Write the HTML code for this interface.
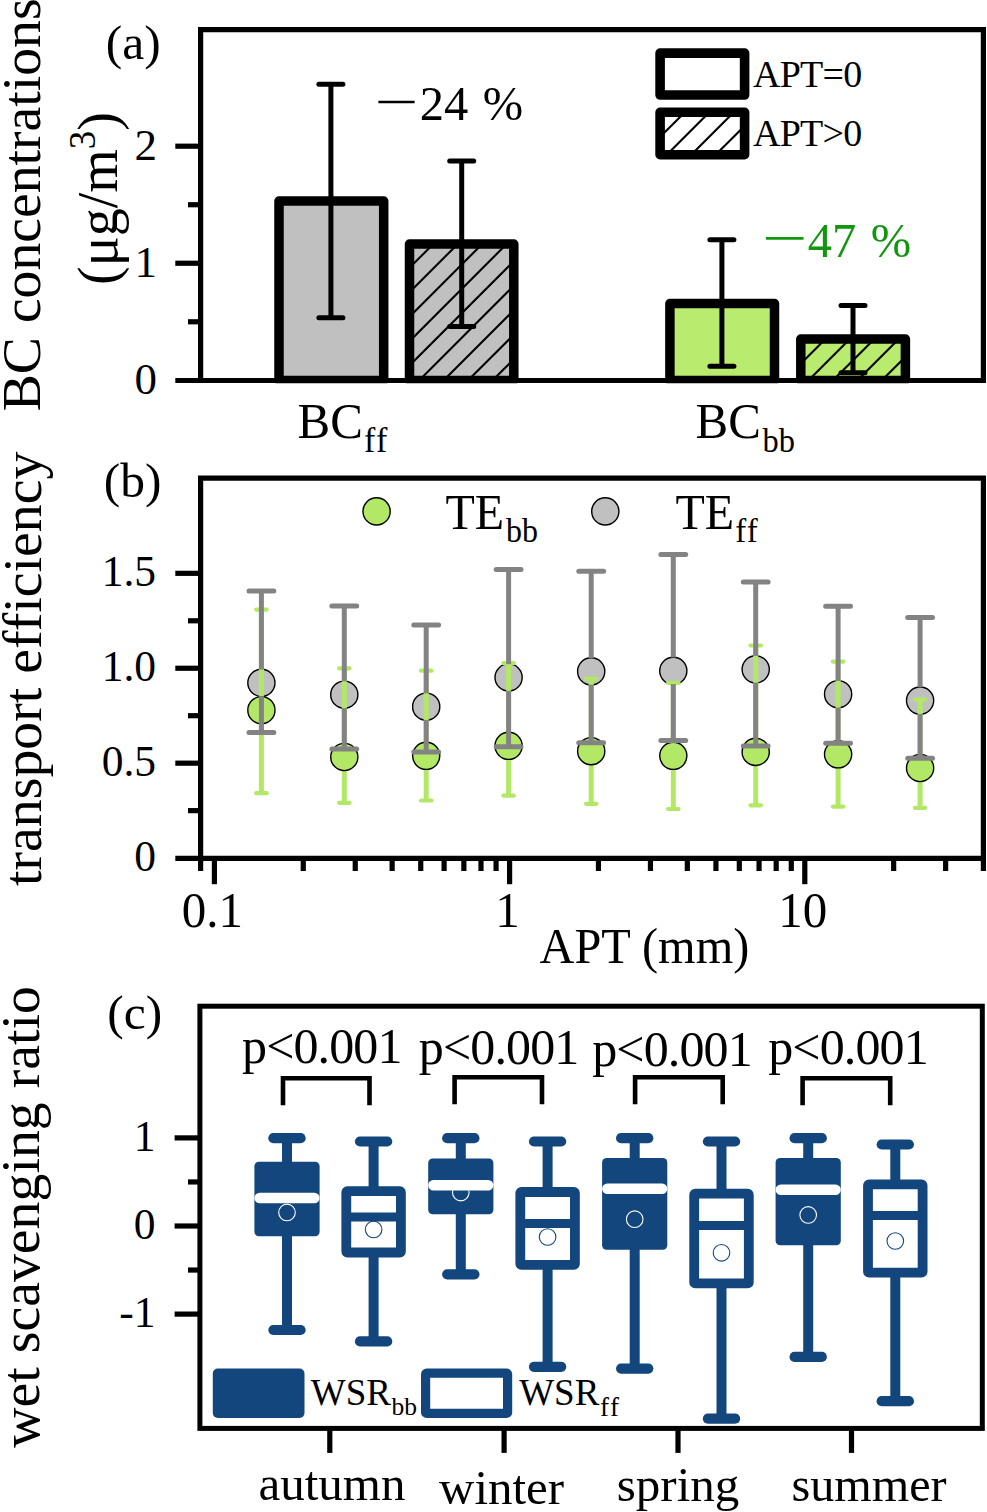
<!DOCTYPE html>
<html><head><meta charset="utf-8"><title>figure</title>
<style>
html,body{margin:0;padding:0;background:#fff;}
body{width:987px;height:1512px;overflow:hidden;font-family:"Liberation Serif", serif;}
svg{display:block;}
text{font-family:"Liberation Serif", serif;}
</style></head><body>
<svg width="987" height="1512" viewBox="0 0 987 1512">
<rect x="0" y="0" width="987" height="1512" fill="#fff"/>

<g id="panelA">
<clipPath id="clipA"><rect x="0" y="0" width="987" height="383.20"/></clipPath>
<rect x="279.00" y="201.00" width="104.70" height="179.30" fill="#c0c0c0"/>
<path d="M279.00,380.50 V201.00 H383.70 V380.50 Z" fill="none" stroke="#000" stroke-width="9.5" stroke-linejoin="round" clip-path="url(#clipA)"/>
<rect x="409.50" y="244.00" width="104.30" height="136.30" fill="#c0c0c0"/>
<clipPath id="ca1"><rect x="409.50" y="244.00" width="104.30" height="136.30"/></clipPath>
<g clip-path="url(#ca1)" stroke="#000" stroke-width="2.1">
<line x1="404.50" y1="223.90" x2="518.80" y2="109.60"/>
<line x1="404.50" y1="248.35" x2="518.80" y2="134.05"/>
<line x1="404.50" y1="272.80" x2="518.80" y2="158.50"/>
<line x1="404.50" y1="297.25" x2="518.80" y2="182.95"/>
<line x1="404.50" y1="321.70" x2="518.80" y2="207.40"/>
<line x1="404.50" y1="346.15" x2="518.80" y2="231.85"/>
<line x1="404.50" y1="370.60" x2="518.80" y2="256.30"/>
<line x1="404.50" y1="395.05" x2="518.80" y2="280.75"/>
<line x1="404.50" y1="419.50" x2="518.80" y2="305.20"/>
<line x1="404.50" y1="443.95" x2="518.80" y2="329.65"/>
<line x1="404.50" y1="468.40" x2="518.80" y2="354.10"/>
<line x1="404.50" y1="492.85" x2="518.80" y2="378.55"/>
</g>
<path d="M409.50,380.50 V244.00 H513.80 V380.50 Z" fill="none" stroke="#000" stroke-width="9.5" stroke-linejoin="round" clip-path="url(#clipA)"/>
<rect x="669.90" y="303.50" width="104.60" height="76.80" fill="#b9ec6e"/>
<path d="M669.90,380.50 V303.50 H774.50 V380.50 Z" fill="none" stroke="#000" stroke-width="9.5" stroke-linejoin="round" clip-path="url(#clipA)"/>
<rect x="800.80" y="339.00" width="104.60" height="41.30" fill="#b9ec6e"/>
<clipPath id="ca2"><rect x="800.80" y="339.00" width="104.60" height="41.30"/></clipPath>
<g clip-path="url(#ca2)" stroke="#000" stroke-width="2.1">
<line x1="795.80" y1="295.25" x2="910.40" y2="180.65"/>
<line x1="795.80" y1="319.70" x2="910.40" y2="205.10"/>
<line x1="795.80" y1="344.15" x2="910.40" y2="229.55"/>
<line x1="795.80" y1="368.60" x2="910.40" y2="254.00"/>
<line x1="795.80" y1="393.05" x2="910.40" y2="278.45"/>
<line x1="795.80" y1="417.50" x2="910.40" y2="302.90"/>
<line x1="795.80" y1="441.95" x2="910.40" y2="327.35"/>
<line x1="795.80" y1="466.40" x2="910.40" y2="351.80"/>
<line x1="795.80" y1="490.85" x2="910.40" y2="376.25"/>
</g>
<path d="M800.80,380.50 V339.00 H905.40 V380.50 Z" fill="none" stroke="#000" stroke-width="9.5" stroke-linejoin="round" clip-path="url(#clipA)"/>
<line x1="330.90" y1="84.30" x2="330.90" y2="317.80" stroke="#000" stroke-width="5.0" stroke-linecap="butt" />
<line x1="318.90" y1="84.30" x2="342.90" y2="84.30" stroke="#000" stroke-width="5.0" stroke-linecap="round" />
<line x1="318.90" y1="317.80" x2="342.90" y2="317.80" stroke="#000" stroke-width="5.0" stroke-linecap="round" />
<line x1="461.70" y1="161.10" x2="461.70" y2="326.60" stroke="#000" stroke-width="5.0" stroke-linecap="butt" />
<line x1="449.70" y1="161.10" x2="473.70" y2="161.10" stroke="#000" stroke-width="5.0" stroke-linecap="round" />
<line x1="449.70" y1="326.60" x2="473.70" y2="326.60" stroke="#000" stroke-width="5.0" stroke-linecap="round" />
<line x1="721.90" y1="239.80" x2="721.90" y2="366.30" stroke="#000" stroke-width="5.0" stroke-linecap="butt" />
<line x1="709.90" y1="239.80" x2="733.90" y2="239.80" stroke="#000" stroke-width="5.0" stroke-linecap="round" />
<line x1="709.90" y1="366.30" x2="733.90" y2="366.30" stroke="#000" stroke-width="5.0" stroke-linecap="round" />
<line x1="853.00" y1="305.50" x2="853.00" y2="372.70" stroke="#000" stroke-width="5.0" stroke-linecap="butt" />
<line x1="841.00" y1="305.50" x2="865.00" y2="305.50" stroke="#000" stroke-width="5.0" stroke-linecap="round" />
<line x1="841.00" y1="372.70" x2="865.00" y2="372.70" stroke="#000" stroke-width="5.0" stroke-linecap="round" />
<path d="M200.6,380.3 V29.7 H983.4 V380.3" fill="none" stroke="#000" stroke-width="5.2" stroke-linejoin="miter"/>
<line x1="175.30" y1="380.50" x2="986.00" y2="380.50" stroke="#000" stroke-width="5.2" stroke-linecap="butt" />
<line x1="175.30" y1="263.25" x2="200.60" y2="263.25" stroke="#000" stroke-width="5.2" stroke-linecap="butt" />
<line x1="175.30" y1="146.20" x2="200.60" y2="146.20" stroke="#000" stroke-width="5.2" stroke-linecap="butt" />
<line x1="188.00" y1="321.78" x2="200.60" y2="321.78" stroke="#000" stroke-width="5.2" stroke-linecap="butt" />
<line x1="188.00" y1="204.73" x2="200.60" y2="204.73" stroke="#000" stroke-width="5.2" stroke-linecap="butt" />
<text x="157.00" y="394.30" font-size="45" text-anchor="end" fill="#000" >0</text>
<text x="157.00" y="277.25" font-size="45" text-anchor="end" fill="#000" >1</text>
<text x="157.00" y="160.20" font-size="45" text-anchor="end" fill="#000" >2</text>
<text x="105.70" y="58.50" font-size="49.5" text-anchor="start" fill="#000" >(a)</text>
<line x1="378.40" y1="102.00" x2="414.60" y2="102.00" stroke="#000" stroke-width="2.6" stroke-linecap="butt" />
<text x="419.80" y="119.60" font-size="48.5" text-anchor="start" fill="#000" >24<tspan dx="2.4"> %</tspan></text>
<line x1="765.90" y1="238.40" x2="803.50" y2="238.40" stroke="#12960f" stroke-width="2.6" stroke-linecap="butt" />
<text x="807.80" y="256.80" font-size="48.5" text-anchor="start" fill="#12960f" >47<tspan dx="2.4"> %</tspan></text>
<rect x="660.1" y="53.1" width="84.5" height="41.9" fill="#fff" stroke="#000" stroke-width="9.6" stroke-linejoin="round"/>
<rect x="660.1" y="112.3" width="84.5" height="42.4" fill="#fff"/>
<clipPath id="cl1"><rect x="660.10" y="112.30" width="84.50" height="42.40"/></clipPath>
<g clip-path="url(#cl1)" stroke="#000" stroke-width="2.1">
<line x1="655.10" y1="68.65" x2="749.60" y2="-25.85"/>
<line x1="655.10" y1="93.10" x2="749.60" y2="-1.40"/>
<line x1="655.10" y1="117.55" x2="749.60" y2="23.05"/>
<line x1="655.10" y1="142.00" x2="749.60" y2="47.50"/>
<line x1="655.10" y1="166.45" x2="749.60" y2="71.95"/>
<line x1="655.10" y1="190.90" x2="749.60" y2="96.40"/>
<line x1="655.10" y1="215.35" x2="749.60" y2="120.85"/>
<line x1="655.10" y1="239.80" x2="749.60" y2="145.30"/>
<line x1="655.10" y1="264.25" x2="749.60" y2="169.75"/>
</g>
<rect x="660.1" y="112.3" width="84.5" height="42.4" fill="none" stroke="#000" stroke-width="9.6" stroke-linejoin="round"/>
<text x="753.00" y="86.50" font-size="38" text-anchor="start" fill="#000" textLength="109.3" lengthAdjust="spacing">APT=0</text>
<text x="753.00" y="146.10" font-size="38" text-anchor="start" fill="#000" textLength="109.3" lengthAdjust="spacing">APT&gt;0</text>
<text transform="translate(297.6,437.6) scale(1,1.045)" font-size="49">BC<tspan font-size="34" dy="14.0" dx="1.0" letter-spacing="1.4">ff</tspan></text>
<text transform="translate(695.6,437.5) scale(1,1.045)" font-size="49">BC<tspan font-size="32.5" dy="13.6" dx="1.5">bb</tspan></text>
<text transform="translate(39.6,411.3) rotate(-90)" font-size="55.7">BC concentrations</text>
<text transform="translate(117.0,285) rotate(-90)" font-size="56">(μg/m<tspan font-size="37" dy="-22">3</tspan><tspan dy="22">)</tspan></text>
</g>
<g id="panelB">
<circle cx="261.4" cy="682.8" r="13.6" fill="#c0c0c0" stroke="#000" stroke-width="1.4"/>
<circle cx="344.3" cy="694.7" r="13.6" fill="#c0c0c0" stroke="#000" stroke-width="1.4"/>
<circle cx="426.2" cy="706.7" r="13.6" fill="#c0c0c0" stroke="#000" stroke-width="1.4"/>
<circle cx="508.6" cy="677.5" r="13.6" fill="#c0c0c0" stroke="#000" stroke-width="1.4"/>
<circle cx="591.2" cy="671.4" r="13.6" fill="#c0c0c0" stroke="#000" stroke-width="1.4"/>
<circle cx="673.3" cy="670.8000000000001" r="13.6" fill="#c0c0c0" stroke="#000" stroke-width="1.4"/>
<circle cx="755.7" cy="669.3000000000001" r="13.6" fill="#c0c0c0" stroke="#000" stroke-width="1.4"/>
<circle cx="838.1" cy="694.2" r="13.6" fill="#c0c0c0" stroke="#000" stroke-width="1.4"/>
<circle cx="920.1" cy="700.6" r="13.6" fill="#c0c0c0" stroke="#000" stroke-width="1.4"/>
<line x1="261.40" y1="609.60" x2="261.40" y2="793.20" stroke="#b2e866" stroke-width="5.0" stroke-linecap="butt" />
<line x1="256.20" y1="609.60" x2="266.60" y2="609.60" stroke="#b2e866" stroke-width="4.2" stroke-linecap="round" />
<line x1="256.20" y1="793.20" x2="266.60" y2="793.20" stroke="#b2e866" stroke-width="4.2" stroke-linecap="round" />
<line x1="344.30" y1="668.30" x2="344.30" y2="802.80" stroke="#b2e866" stroke-width="5.0" stroke-linecap="butt" />
<line x1="339.10" y1="668.30" x2="349.50" y2="668.30" stroke="#b2e866" stroke-width="4.2" stroke-linecap="round" />
<line x1="339.10" y1="802.80" x2="349.50" y2="802.80" stroke="#b2e866" stroke-width="4.2" stroke-linecap="round" />
<line x1="426.20" y1="670.70" x2="426.20" y2="800.50" stroke="#b2e866" stroke-width="5.0" stroke-linecap="butt" />
<line x1="421.00" y1="670.70" x2="431.40" y2="670.70" stroke="#b2e866" stroke-width="4.2" stroke-linecap="round" />
<line x1="421.00" y1="800.50" x2="431.40" y2="800.50" stroke="#b2e866" stroke-width="4.2" stroke-linecap="round" />
<line x1="508.60" y1="663.10" x2="508.60" y2="795.60" stroke="#b2e866" stroke-width="5.0" stroke-linecap="butt" />
<line x1="503.40" y1="663.10" x2="513.80" y2="663.10" stroke="#b2e866" stroke-width="4.2" stroke-linecap="round" />
<line x1="503.40" y1="795.60" x2="513.80" y2="795.60" stroke="#b2e866" stroke-width="4.2" stroke-linecap="round" />
<line x1="591.20" y1="678.90" x2="591.20" y2="803.80" stroke="#b2e866" stroke-width="5.0" stroke-linecap="butt" />
<line x1="586.00" y1="678.90" x2="596.40" y2="678.90" stroke="#b2e866" stroke-width="4.2" stroke-linecap="round" />
<line x1="586.00" y1="803.80" x2="596.40" y2="803.80" stroke="#b2e866" stroke-width="4.2" stroke-linecap="round" />
<line x1="673.30" y1="682.90" x2="673.30" y2="809.00" stroke="#b2e866" stroke-width="5.0" stroke-linecap="butt" />
<line x1="668.10" y1="682.90" x2="678.50" y2="682.90" stroke="#b2e866" stroke-width="4.2" stroke-linecap="round" />
<line x1="668.10" y1="809.00" x2="678.50" y2="809.00" stroke="#b2e866" stroke-width="4.2" stroke-linecap="round" />
<line x1="755.70" y1="645.50" x2="755.70" y2="805.30" stroke="#b2e866" stroke-width="5.0" stroke-linecap="butt" />
<line x1="750.50" y1="645.50" x2="760.90" y2="645.50" stroke="#b2e866" stroke-width="4.2" stroke-linecap="round" />
<line x1="750.50" y1="805.30" x2="760.90" y2="805.30" stroke="#b2e866" stroke-width="4.2" stroke-linecap="round" />
<line x1="838.10" y1="661.60" x2="838.10" y2="806.60" stroke="#b2e866" stroke-width="5.0" stroke-linecap="butt" />
<line x1="832.90" y1="661.60" x2="843.30" y2="661.60" stroke="#b2e866" stroke-width="4.2" stroke-linecap="round" />
<line x1="832.90" y1="806.60" x2="843.30" y2="806.60" stroke="#b2e866" stroke-width="4.2" stroke-linecap="round" />
<line x1="920.10" y1="699.60" x2="920.10" y2="807.80" stroke="#b2e866" stroke-width="5.0" stroke-linecap="butt" />
<line x1="914.90" y1="699.60" x2="925.30" y2="699.60" stroke="#b2e866" stroke-width="4.2" stroke-linecap="round" />
<line x1="914.90" y1="807.80" x2="925.30" y2="807.80" stroke="#b2e866" stroke-width="4.2" stroke-linecap="round" />
<circle cx="261.4" cy="710.1999999999999" r="13.6" fill="#b2e866" stroke="#000" stroke-width="1.4"/>
<circle cx="344.3" cy="757.0" r="13.6" fill="#b2e866" stroke="#000" stroke-width="1.4"/>
<circle cx="426.2" cy="755.8" r="13.6" fill="#b2e866" stroke="#000" stroke-width="1.4"/>
<circle cx="508.6" cy="745.8" r="13.6" fill="#b2e866" stroke="#000" stroke-width="1.4"/>
<circle cx="591.2" cy="751.2" r="13.6" fill="#b2e866" stroke="#000" stroke-width="1.4"/>
<circle cx="673.3" cy="755.8" r="13.6" fill="#b2e866" stroke="#000" stroke-width="1.4"/>
<circle cx="755.7" cy="751.9" r="13.6" fill="#b2e866" stroke="#000" stroke-width="1.4"/>
<circle cx="838.1" cy="754.3" r="13.6" fill="#b2e866" stroke="#000" stroke-width="1.4"/>
<circle cx="920.1" cy="768.0" r="13.6" fill="#b2e866" stroke="#000" stroke-width="1.4"/>
<line x1="261.40" y1="591.10" x2="261.40" y2="669.50" stroke="#838383" stroke-width="5.0" stroke-linecap="butt" />
<line x1="261.40" y1="696.10" x2="261.40" y2="732.40" stroke="#838383" stroke-width="5.0" stroke-linecap="butt" />
<line x1="249.00" y1="591.10" x2="273.80" y2="591.10" stroke="#838383" stroke-width="5.0" stroke-linecap="round" />
<line x1="249.00" y1="732.40" x2="273.80" y2="732.40" stroke="#838383" stroke-width="5.0" stroke-linecap="round" />
<line x1="344.30" y1="606.00" x2="344.30" y2="681.40" stroke="#838383" stroke-width="5.0" stroke-linecap="butt" />
<line x1="344.30" y1="708.00" x2="344.30" y2="749.10" stroke="#838383" stroke-width="5.0" stroke-linecap="butt" />
<line x1="331.90" y1="606.00" x2="356.70" y2="606.00" stroke="#838383" stroke-width="5.0" stroke-linecap="round" />
<line x1="331.90" y1="749.10" x2="356.70" y2="749.10" stroke="#838383" stroke-width="5.0" stroke-linecap="round" />
<line x1="426.20" y1="625.10" x2="426.20" y2="693.40" stroke="#838383" stroke-width="5.0" stroke-linecap="butt" />
<line x1="426.20" y1="720.00" x2="426.20" y2="751.90" stroke="#838383" stroke-width="5.0" stroke-linecap="butt" />
<line x1="413.80" y1="625.10" x2="438.60" y2="625.10" stroke="#838383" stroke-width="5.0" stroke-linecap="round" />
<line x1="413.80" y1="751.90" x2="438.60" y2="751.90" stroke="#838383" stroke-width="5.0" stroke-linecap="round" />
<line x1="508.60" y1="569.50" x2="508.60" y2="664.20" stroke="#838383" stroke-width="5.0" stroke-linecap="butt" />
<line x1="508.60" y1="690.80" x2="508.60" y2="746.70" stroke="#838383" stroke-width="5.0" stroke-linecap="butt" />
<line x1="496.20" y1="569.50" x2="521.00" y2="569.50" stroke="#838383" stroke-width="5.0" stroke-linecap="round" />
<line x1="496.20" y1="746.70" x2="521.00" y2="746.70" stroke="#838383" stroke-width="5.0" stroke-linecap="round" />
<line x1="591.20" y1="571.30" x2="591.20" y2="658.10" stroke="#838383" stroke-width="5.0" stroke-linecap="butt" />
<line x1="591.20" y1="684.70" x2="591.20" y2="742.70" stroke="#838383" stroke-width="5.0" stroke-linecap="butt" />
<line x1="578.80" y1="571.30" x2="603.60" y2="571.30" stroke="#838383" stroke-width="5.0" stroke-linecap="round" />
<line x1="578.80" y1="742.70" x2="603.60" y2="742.70" stroke="#838383" stroke-width="5.0" stroke-linecap="round" />
<line x1="673.30" y1="554.60" x2="673.30" y2="657.50" stroke="#838383" stroke-width="5.0" stroke-linecap="butt" />
<line x1="673.30" y1="684.10" x2="673.30" y2="740.60" stroke="#838383" stroke-width="5.0" stroke-linecap="butt" />
<line x1="660.90" y1="554.60" x2="685.70" y2="554.60" stroke="#838383" stroke-width="5.0" stroke-linecap="round" />
<line x1="660.90" y1="740.60" x2="685.70" y2="740.60" stroke="#838383" stroke-width="5.0" stroke-linecap="round" />
<line x1="755.70" y1="581.90" x2="755.70" y2="656.00" stroke="#838383" stroke-width="5.0" stroke-linecap="butt" />
<line x1="755.70" y1="682.60" x2="755.70" y2="746.10" stroke="#838383" stroke-width="5.0" stroke-linecap="butt" />
<line x1="743.30" y1="581.90" x2="768.10" y2="581.90" stroke="#838383" stroke-width="5.0" stroke-linecap="round" />
<line x1="743.30" y1="746.10" x2="768.10" y2="746.10" stroke="#838383" stroke-width="5.0" stroke-linecap="round" />
<line x1="838.10" y1="606.30" x2="838.10" y2="680.90" stroke="#838383" stroke-width="5.0" stroke-linecap="butt" />
<line x1="838.10" y1="707.50" x2="838.10" y2="743.30" stroke="#838383" stroke-width="5.0" stroke-linecap="butt" />
<line x1="825.70" y1="606.30" x2="850.50" y2="606.30" stroke="#838383" stroke-width="5.0" stroke-linecap="round" />
<line x1="825.70" y1="743.30" x2="850.50" y2="743.30" stroke="#838383" stroke-width="5.0" stroke-linecap="round" />
<line x1="920.10" y1="617.50" x2="920.10" y2="687.30" stroke="#838383" stroke-width="5.0" stroke-linecap="butt" />
<line x1="920.10" y1="713.90" x2="920.10" y2="758.20" stroke="#838383" stroke-width="5.0" stroke-linecap="butt" />
<line x1="907.70" y1="617.50" x2="932.50" y2="617.50" stroke="#838383" stroke-width="5.0" stroke-linecap="round" />
<line x1="907.70" y1="758.20" x2="932.50" y2="758.20" stroke="#838383" stroke-width="5.0" stroke-linecap="round" />
<path d="M200.6,858.1 V478.1 H983.4 V858.1" fill="none" stroke="#000" stroke-width="5.2"/>
<line x1="175.30" y1="858.30" x2="986.00" y2="858.30" stroke="#000" stroke-width="5.2" stroke-linecap="butt" />
<line x1="175.30" y1="763.18" x2="200.60" y2="763.18" stroke="#000" stroke-width="5.2" stroke-linecap="butt" />
<line x1="175.30" y1="668.25" x2="200.60" y2="668.25" stroke="#000" stroke-width="5.2" stroke-linecap="butt" />
<line x1="175.30" y1="573.33" x2="200.60" y2="573.33" stroke="#000" stroke-width="5.2" stroke-linecap="butt" />
<line x1="188.00" y1="810.64" x2="200.60" y2="810.64" stroke="#000" stroke-width="5.2" stroke-linecap="butt" />
<line x1="188.00" y1="715.71" x2="200.60" y2="715.71" stroke="#000" stroke-width="5.2" stroke-linecap="butt" />
<line x1="188.00" y1="620.79" x2="200.60" y2="620.79" stroke="#000" stroke-width="5.2" stroke-linecap="butt" />
<line x1="214.40" y1="858.10" x2="214.40" y2="884.20" stroke="#000" stroke-width="5.2" stroke-linecap="butt" />
<line x1="509.60" y1="858.10" x2="509.60" y2="884.20" stroke="#000" stroke-width="5.2" stroke-linecap="butt" />
<line x1="804.80" y1="858.10" x2="804.80" y2="884.20" stroke="#000" stroke-width="5.2" stroke-linecap="butt" />
<line x1="303.26" y1="858.10" x2="303.26" y2="871.00" stroke="#000" stroke-width="5.2" stroke-linecap="butt" />
<line x1="355.25" y1="858.10" x2="355.25" y2="871.00" stroke="#000" stroke-width="5.2" stroke-linecap="butt" />
<line x1="392.13" y1="858.10" x2="392.13" y2="871.00" stroke="#000" stroke-width="5.2" stroke-linecap="butt" />
<line x1="420.74" y1="858.10" x2="420.74" y2="871.00" stroke="#000" stroke-width="5.2" stroke-linecap="butt" />
<line x1="444.11" y1="858.10" x2="444.11" y2="871.00" stroke="#000" stroke-width="5.2" stroke-linecap="butt" />
<line x1="463.87" y1="858.10" x2="463.87" y2="871.00" stroke="#000" stroke-width="5.2" stroke-linecap="butt" />
<line x1="480.99" y1="858.10" x2="480.99" y2="871.00" stroke="#000" stroke-width="5.2" stroke-linecap="butt" />
<line x1="496.09" y1="858.10" x2="496.09" y2="871.00" stroke="#000" stroke-width="5.2" stroke-linecap="butt" />
<line x1="598.46" y1="858.10" x2="598.46" y2="871.00" stroke="#000" stroke-width="5.2" stroke-linecap="butt" />
<line x1="650.45" y1="858.10" x2="650.45" y2="871.00" stroke="#000" stroke-width="5.2" stroke-linecap="butt" />
<line x1="687.33" y1="858.10" x2="687.33" y2="871.00" stroke="#000" stroke-width="5.2" stroke-linecap="butt" />
<line x1="715.94" y1="858.10" x2="715.94" y2="871.00" stroke="#000" stroke-width="5.2" stroke-linecap="butt" />
<line x1="739.31" y1="858.10" x2="739.31" y2="871.00" stroke="#000" stroke-width="5.2" stroke-linecap="butt" />
<line x1="759.07" y1="858.10" x2="759.07" y2="871.00" stroke="#000" stroke-width="5.2" stroke-linecap="butt" />
<line x1="776.19" y1="858.10" x2="776.19" y2="871.00" stroke="#000" stroke-width="5.2" stroke-linecap="butt" />
<line x1="791.29" y1="858.10" x2="791.29" y2="871.00" stroke="#000" stroke-width="5.2" stroke-linecap="butt" />
<line x1="893.66" y1="858.10" x2="893.66" y2="871.00" stroke="#000" stroke-width="5.2" stroke-linecap="butt" />
<line x1="945.65" y1="858.10" x2="945.65" y2="871.00" stroke="#000" stroke-width="5.2" stroke-linecap="butt" />
<line x1="200.60" y1="858.10" x2="200.60" y2="871.00" stroke="#000" stroke-width="5.2" stroke-linecap="butt" />
<line x1="983.40" y1="858.10" x2="983.40" y2="871.00" stroke="#000" stroke-width="5.2" stroke-linecap="butt" />
<text x="156.00" y="871.10" font-size="43.5" text-anchor="end" fill="#000" >0</text>
<text x="156.00" y="776.18" font-size="43.5" text-anchor="end" fill="#000" >0.5</text>
<text x="156.00" y="681.25" font-size="43.5" text-anchor="end" fill="#000" >1.0</text>
<text x="156.00" y="586.33" font-size="43.5" text-anchor="end" fill="#000" >1.5</text>
<text transform="translate(212.40,926.50) scale(1,1.05)" font-size="49" text-anchor="middle" fill="#000" >0.1</text>
<text transform="translate(507.60,926.50) scale(1,1.05)" font-size="49" text-anchor="middle" fill="#000" >1</text>
<text transform="translate(802.80,926.50) scale(1,1.05)" font-size="49" text-anchor="middle" fill="#000" >10</text>
<text transform="translate(539.60,963.40) scale(1,1.06)" font-size="48.3" text-anchor="start" fill="#000" >APT (mm)</text>
<text x="103.70" y="497.40" font-size="49.5" text-anchor="start" fill="#000" >(b)</text>
<circle cx="376.6" cy="511.4" r="13.6" fill="#b2e866" stroke="#000" stroke-width="1.4"/>
<circle cx="605.3" cy="511.4" r="13.6" fill="#c0c0c0" stroke="#000" stroke-width="1.4"/>
<text transform="translate(445.4,528.9) scale(1,1.05)" font-size="48">TE<tspan font-size="32" dy="12.8" dx="2">bb</tspan></text>
<text transform="translate(675.5,528.9) scale(1,1.05)" font-size="48">TE<tspan font-size="33" dy="12.8" dx="1" letter-spacing="1.2">ff</tspan></text>
<text transform="translate(40.5,886) rotate(-90)" font-size="55.8">transport efficiency</text>
</g>
<g id="panelC">
<line x1="287.00" y1="1138.20" x2="287.00" y2="1330.00" stroke="#12467d" stroke-width="10.0" stroke-linecap="butt" />
<line x1="273.40" y1="1138.20" x2="300.60" y2="1138.20" stroke="#12467d" stroke-width="10.2" stroke-linecap="round" />
<line x1="273.40" y1="1330.00" x2="300.60" y2="1330.00" stroke="#12467d" stroke-width="10.2" stroke-linecap="round" />
<rect x="254.40" y="1161.70" width="65.2" height="74.60" rx="4.5" fill="#12467d"/>
<circle cx="287.00" cy="1212.40" r="8.3" fill="none" stroke="#fff" stroke-width="1.1"/>
<line x1="259.60" y1="1198.00" x2="314.40" y2="1198.00" stroke="#fff" stroke-width="10.4" stroke-linecap="round" />
<line x1="373.60" y1="1141.50" x2="373.60" y2="1341.40" stroke="#12467d" stroke-width="10.0" stroke-linecap="butt" />
<line x1="360.00" y1="1141.50" x2="387.20" y2="1141.50" stroke="#12467d" stroke-width="10.2" stroke-linecap="round" />
<line x1="360.00" y1="1341.40" x2="387.20" y2="1341.40" stroke="#12467d" stroke-width="10.2" stroke-linecap="round" />
<rect x="346.30" y="1191.20" width="54.6" height="61.30" rx="1" fill="#fff" stroke="#12467d" stroke-width="9.8" stroke-linejoin="round"/>
<line x1="346.60" y1="1217.00" x2="400.60" y2="1217.00" stroke="#12467d" stroke-width="9.0" stroke-linecap="butt" />
<circle cx="373.60" cy="1229.40" r="8.3" fill="#fff" stroke="#12467d" stroke-width="1.1"/>
<line x1="460.80" y1="1138.20" x2="460.80" y2="1274.30" stroke="#12467d" stroke-width="10.0" stroke-linecap="butt" />
<line x1="447.20" y1="1138.20" x2="474.40" y2="1138.20" stroke="#12467d" stroke-width="10.2" stroke-linecap="round" />
<line x1="447.20" y1="1274.30" x2="474.40" y2="1274.30" stroke="#12467d" stroke-width="10.2" stroke-linecap="round" />
<rect x="428.20" y="1158.40" width="65.2" height="55.80" rx="4.5" fill="#12467d"/>
<circle cx="460.80" cy="1192.60" r="8.3" fill="none" stroke="#fff" stroke-width="1.1"/>
<line x1="433.40" y1="1185.30" x2="488.20" y2="1185.30" stroke="#fff" stroke-width="10.4" stroke-linecap="round" />
<line x1="547.60" y1="1141.50" x2="547.60" y2="1366.80" stroke="#12467d" stroke-width="10.0" stroke-linecap="butt" />
<line x1="534.00" y1="1141.50" x2="561.20" y2="1141.50" stroke="#12467d" stroke-width="10.2" stroke-linecap="round" />
<line x1="534.00" y1="1366.80" x2="561.20" y2="1366.80" stroke="#12467d" stroke-width="10.2" stroke-linecap="round" />
<rect x="520.30" y="1192.00" width="54.6" height="72.90" rx="1" fill="#fff" stroke="#12467d" stroke-width="9.8" stroke-linejoin="round"/>
<line x1="520.60" y1="1223.50" x2="574.60" y2="1223.50" stroke="#12467d" stroke-width="9.0" stroke-linecap="butt" />
<circle cx="547.60" cy="1237.00" r="8.3" fill="#fff" stroke="#12467d" stroke-width="1.1"/>
<line x1="634.70" y1="1138.20" x2="634.70" y2="1368.60" stroke="#12467d" stroke-width="10.0" stroke-linecap="butt" />
<line x1="621.10" y1="1138.20" x2="648.30" y2="1138.20" stroke="#12467d" stroke-width="10.2" stroke-linecap="round" />
<line x1="621.10" y1="1368.60" x2="648.30" y2="1368.60" stroke="#12467d" stroke-width="10.2" stroke-linecap="round" />
<rect x="602.10" y="1157.90" width="65.2" height="91.90" rx="4.5" fill="#12467d"/>
<circle cx="634.70" cy="1219.20" r="8.3" fill="none" stroke="#fff" stroke-width="1.1"/>
<line x1="607.30" y1="1188.80" x2="662.10" y2="1188.80" stroke="#fff" stroke-width="10.4" stroke-linecap="round" />
<line x1="721.50" y1="1141.50" x2="721.50" y2="1418.70" stroke="#12467d" stroke-width="10.0" stroke-linecap="butt" />
<line x1="707.90" y1="1141.50" x2="735.10" y2="1141.50" stroke="#12467d" stroke-width="10.2" stroke-linecap="round" />
<line x1="707.90" y1="1418.70" x2="735.10" y2="1418.70" stroke="#12467d" stroke-width="10.2" stroke-linecap="round" />
<rect x="694.20" y="1193.70" width="54.6" height="89.70" rx="1" fill="#fff" stroke="#12467d" stroke-width="9.8" stroke-linejoin="round"/>
<line x1="694.50" y1="1225.60" x2="748.50" y2="1225.60" stroke="#12467d" stroke-width="9.0" stroke-linecap="butt" />
<circle cx="721.50" cy="1252.80" r="8.3" fill="#fff" stroke="#12467d" stroke-width="1.1"/>
<line x1="808.20" y1="1138.20" x2="808.20" y2="1356.90" stroke="#12467d" stroke-width="10.0" stroke-linecap="butt" />
<line x1="794.60" y1="1138.20" x2="821.80" y2="1138.20" stroke="#12467d" stroke-width="10.2" stroke-linecap="round" />
<line x1="794.60" y1="1356.90" x2="821.80" y2="1356.90" stroke="#12467d" stroke-width="10.2" stroke-linecap="round" />
<rect x="775.60" y="1157.90" width="65.2" height="87.30" rx="4.5" fill="#12467d"/>
<circle cx="808.20" cy="1214.90" r="8.3" fill="none" stroke="#fff" stroke-width="1.1"/>
<line x1="780.80" y1="1189.80" x2="835.60" y2="1189.80" stroke="#fff" stroke-width="10.4" stroke-linecap="round" />
<line x1="895.30" y1="1144.50" x2="895.30" y2="1401.20" stroke="#12467d" stroke-width="10.0" stroke-linecap="butt" />
<line x1="881.70" y1="1144.50" x2="908.90" y2="1144.50" stroke="#12467d" stroke-width="10.2" stroke-linecap="round" />
<line x1="881.70" y1="1401.20" x2="908.90" y2="1401.20" stroke="#12467d" stroke-width="10.2" stroke-linecap="round" />
<rect x="868.00" y="1184.40" width="54.6" height="88.30" rx="1" fill="#fff" stroke="#12467d" stroke-width="9.8" stroke-linejoin="round"/>
<line x1="868.30" y1="1215.40" x2="922.30" y2="1215.40" stroke="#12467d" stroke-width="9.0" stroke-linecap="butt" />
<circle cx="895.30" cy="1241.00" r="8.3" fill="#fff" stroke="#12467d" stroke-width="1.1"/>
<path d="M283.0,1105.2 V1078.3 H369.5 V1105.2" fill="none" stroke="#000" stroke-width="4.6" stroke-linejoin="miter"/>
<text x="242.00" y="1062.50" font-size="50" text-anchor="start" fill="#000" textLength="160.5" lengthAdjust="spacing">p&lt;0.001</text>
<path d="M454.6,1104.2 V1077.2 H542.0 V1104.2" fill="none" stroke="#000" stroke-width="4.6" stroke-linejoin="miter"/>
<text x="418.80" y="1064.30" font-size="50" text-anchor="start" fill="#000" textLength="160.5" lengthAdjust="spacing">p&lt;0.001</text>
<path d="M635.1,1104.2 V1077.2 H722.7 V1104.2" fill="none" stroke="#000" stroke-width="4.6" stroke-linejoin="miter"/>
<text x="592.20" y="1065.90" font-size="50" text-anchor="start" fill="#000" textLength="160.5" lengthAdjust="spacing">p&lt;0.001</text>
<path d="M802.6,1105.2 V1078.2 H890.2 V1105.2" fill="none" stroke="#000" stroke-width="4.6" stroke-linejoin="miter"/>
<text x="768.20" y="1063.90" font-size="50" text-anchor="start" fill="#000" textLength="160.5" lengthAdjust="spacing">p&lt;0.001</text>
<rect x="199.9" y="1006.2" width="782.40" height="422.20" fill="none" stroke="#000" stroke-width="5.0"/>
<line x1="174.60" y1="1137.90" x2="200.60" y2="1137.90" stroke="#000" stroke-width="5.2" stroke-linecap="butt" />
<line x1="174.60" y1="1226.00" x2="200.60" y2="1226.00" stroke="#000" stroke-width="5.2" stroke-linecap="butt" />
<line x1="174.60" y1="1314.10" x2="200.60" y2="1314.10" stroke="#000" stroke-width="5.2" stroke-linecap="butt" />
<line x1="188.00" y1="1181.95" x2="200.60" y2="1181.95" stroke="#000" stroke-width="5.2" stroke-linecap="butt" />
<line x1="188.00" y1="1270.05" x2="200.60" y2="1270.05" stroke="#000" stroke-width="5.2" stroke-linecap="butt" />
<line x1="329.80" y1="1428.40" x2="329.80" y2="1452.90" stroke="#000" stroke-width="5.2" stroke-linecap="butt" />
<line x1="504.10" y1="1428.40" x2="504.10" y2="1452.90" stroke="#000" stroke-width="5.2" stroke-linecap="butt" />
<line x1="678.00" y1="1428.40" x2="678.00" y2="1452.90" stroke="#000" stroke-width="5.2" stroke-linecap="butt" />
<line x1="851.50" y1="1428.40" x2="851.50" y2="1452.90" stroke="#000" stroke-width="5.2" stroke-linecap="butt" />
<text x="155.50" y="1150.90" font-size="43.5" text-anchor="end" fill="#000" >1</text>
<text x="155.50" y="1239.00" font-size="43.5" text-anchor="end" fill="#000" >0</text>
<text x="155.50" y="1327.10" font-size="43.5" text-anchor="end" fill="#000" >-1</text>
<text x="107.20" y="1029.10" font-size="49.5" text-anchor="start" fill="#000" >(c)</text>
<rect x="212.8" y="1368.6" width="91.7" height="49.4" rx="5" fill="#12467d"/>
<rect x="425.6" y="1373.2" width="82.0" height="40.2" rx="1" fill="#fff" stroke="#12467d" stroke-width="9.2" stroke-linejoin="round"/>
<text x="310.8" y="1405.4" font-size="37">WSR<tspan font-size="25.5" dy="10.0" dx="0.5">bb</tspan></text>
<text x="519.2" y="1405.2" font-size="37">WSR<tspan font-size="27" dy="10.3" dx="0.5" letter-spacing="1.6">ff</tspan></text>
<text x="332.00" y="1499.80" font-size="49" text-anchor="middle" fill="#000" >autumn</text>
<text x="501.60" y="1503.80" font-size="49" text-anchor="middle" fill="#000" >winter</text>
<text x="678.00" y="1500.50" font-size="49" text-anchor="middle" fill="#000" >spring</text>
<text x="869.00" y="1500.50" font-size="48.2" text-anchor="middle" fill="#000" >summer</text>
<text transform="translate(39.0,1447.8) rotate(-90)" font-size="55.8">wet scavenging ratio</text>
</g>
</svg></body></html>
